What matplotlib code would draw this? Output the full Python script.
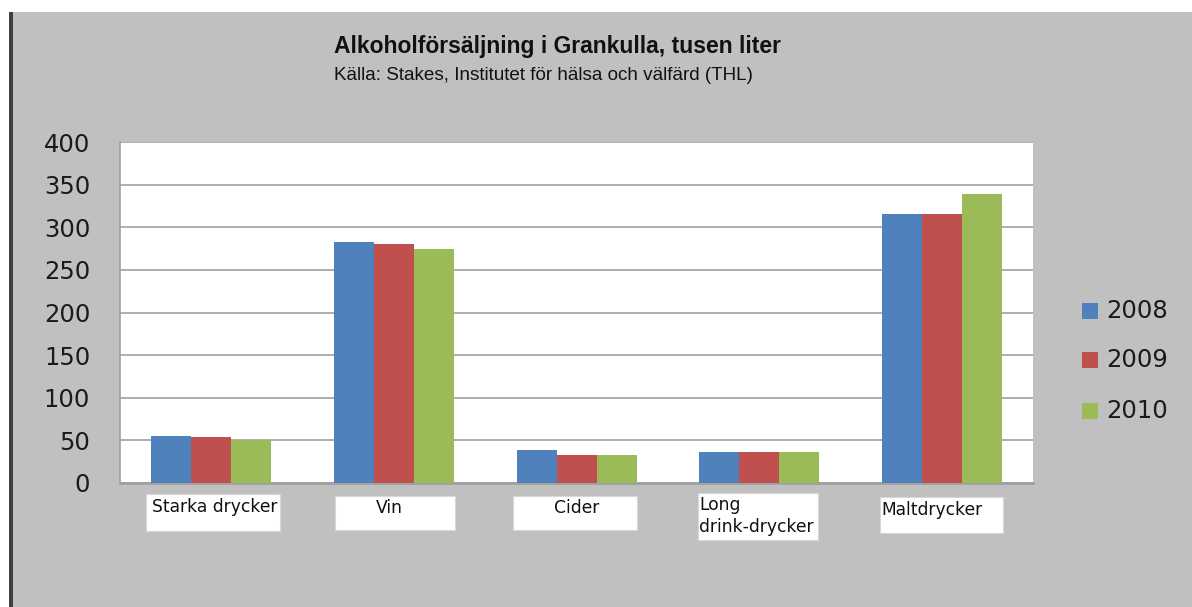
import matplotlib
matplotlib.use("Agg")
import matplotlib.pyplot as plt
import numpy as np
from matplotlib.patches import Rectangle

categories = ["Starka drycker", "Vin", "Cider", "Long\ndrink-drycker", "Maltdrycker"]
years = ["2008", "2009", "2010"]
v2008 = [55.5, 283, 39, 36, 316]
v2009 = [53.5, 280, 32.5, 36, 316]
v2010 = [50, 275, 32.5, 36, 338.5]
yticks = [0, 50, 100, 150, 200, 250, 300, 350, 400]
colors = ["#4F81BD", "#C0504D", "#9BBB59"]

W, H = 1192, 607
fig = plt.figure(figsize=(W / 100, H / 100), dpi=100)
fig.patch.set_facecolor("white")
# gray chart area
fig.patches.append(Rectangle((13 / W, 0), (W - 13) / W, (H - 12) / H,
                             transform=fig.transFigure, facecolor="#C0C0C0",
                             edgecolor="none", zorder=-10))
fig.patches.append(Rectangle((9 / W, 0), 4 / W, (H - 12) / H,
                             transform=fig.transFigure, facecolor="#404040",
                             edgecolor="none", zorder=-10))

left, right, top, bottom = 120, 1033, 142, 483
ax = fig.add_axes([left / W, 1 - bottom / H, (right - left) / W, (bottom - top) / H])
ax.set_zorder(5)
ax.set_facecolor("white")

x = np.arange(len(categories))
bw = 40 / 182.6
for i, (vals, c, lab) in enumerate(zip([v2008, v2009, v2010], colors, years)):
    ax.bar(x + (i - 1) * bw, vals, width=bw, color=c, label=lab, zorder=3,
           edgecolor="none")

ax.set_xlim(-0.5, len(categories) - 0.5)
ax.set_ylim(0, 400)
ax.set_yticks(yticks)
ax.set_yticklabels([str(t) for t in yticks], fontsize=17.5, color="#1a1a1a",
                   family="DejaVu Sans")
ax.tick_params(axis="y", length=0, pad=21.5)
ax.set_xticks([])
ax.grid(axis="y", color="#A0A0A0", linewidth=1.2, zorder=1)
for s in ["top", "right"]:
    ax.spines[s].set_visible(False)
ax.spines["left"].set_color("#A0A0A0")
ax.spines["bottom"].set_color("#A0A0A0")
ax.spines["bottom"].set_linewidth(2)
ax.spines["left"].set_linewidth(1.2)

# category label boxes (pixel coordinates: x0, y0, x1, y1, text x, text y)
boxes = [
    (146, 494, 280, 531, 152, 498),
    (335, 496, 455, 530, 376, 499),
    (513, 496, 637, 530, 554, 499),
    (698, 493, 818, 540, 699, 496),
    (880, 497, 1003, 533, 881, 501),
]
for cat, (x0, y0, x1, y1, tx, ty) in zip(categories, boxes):
    fig.patches.append(Rectangle((x0 / W, 1 - y1 / H), (x1 - x0) / W, (y1 - y0) / H,
                                 transform=fig.transFigure, facecolor="white",
                                 edgecolor="#D8D8D8", linewidth=0.8, zorder=1))
    fig.text(tx / W, 1 - ty / H, cat, ha="left", va="top", fontsize=12.3,
             family="DejaVu Sans", color="#111111", linespacing=1.25)

fig.text(558 / W, 1 - 46 / H, "Alkoholförsäljning i Grankulla, tusen liter",
         ha="center", va="center", fontsize=16.5, fontweight="bold",
         family="Liberation Sans", color="#111111")
fig.text(543 / W, 1 - 75 / H, "Källa: Stakes, Institutet för hälsa och välfärd (THL)",
         ha="center", va="center", fontsize=13.6, family="Liberation Sans",
         color="#111111")

# legend
for i, (lab, c) in enumerate(zip(years, colors)):
    yc = [311, 360, 411][i]
    fig.patches.append(Rectangle((1082 / W, 1 - (yc + 8) / H), 16 / W, 16 / H,
                                 transform=fig.transFigure, facecolor=c,
                                 edgecolor="none", zorder=2))
    fig.text(1106 / W, 1 - yc / H, lab, ha="left", va="center", fontsize=17.5,
             family="DejaVu Sans", color="#1a1a1a")

fig.savefig("out.png", dpi=100)
